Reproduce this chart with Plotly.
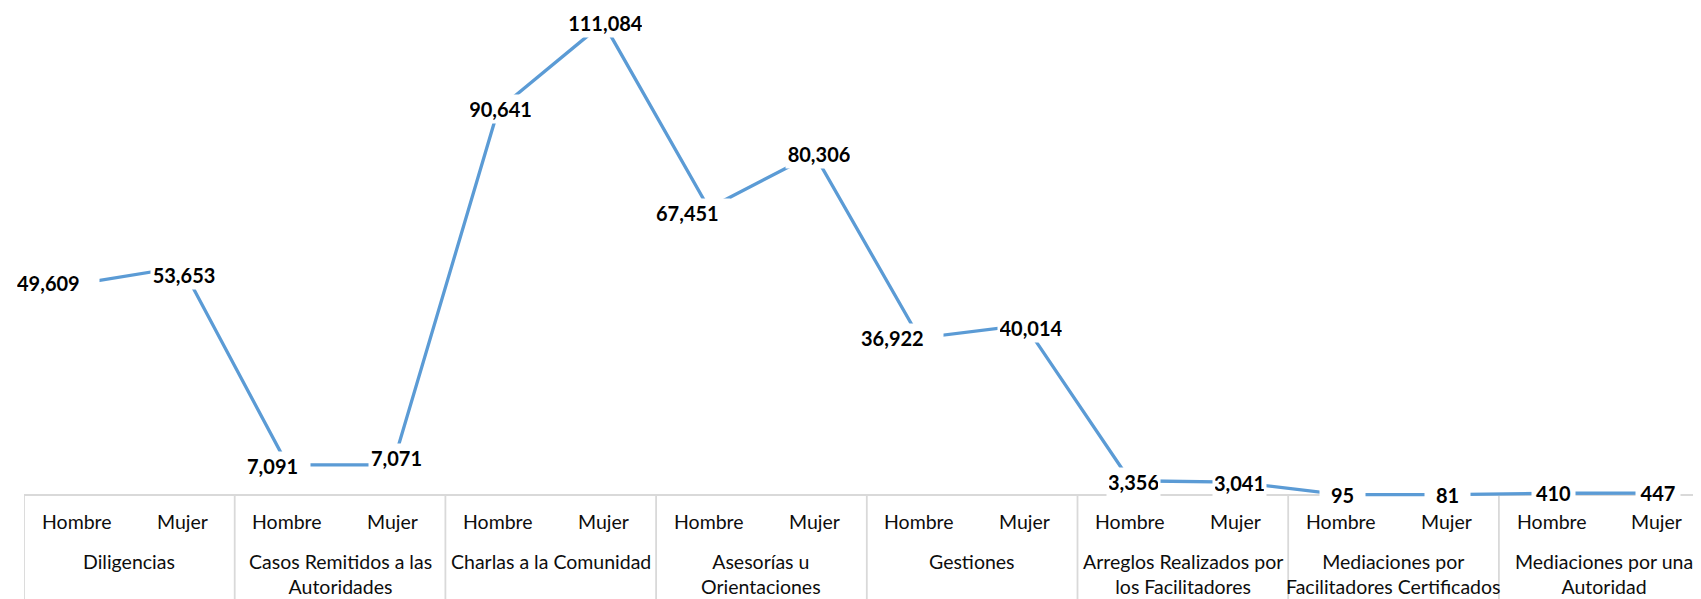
import plotly.graph_objects as go

groups = ["Diligencias", "Casos Remitidos a las<br>Autoridades", "Charlas a la Comunidad",
          "Asesorías u<br>Orientaciones", "Gestiones", "Arreglos Realizados por<br>los Facilitadores",
          "Mediaciones por<br>Facilitadores Certificados", "Mediaciones por una<br>Autoridad"]
sexes = ["Hombre", "Mujer"]
values = [49609, 53653, 7091, 7071, 90641, 111084, 67451, 80306,
          36922, 40014, 3356, 3041, 95, 81, 410, 447]

# label box placement (px, relative to the point): left edge, right edge, vertical offset (down +), text align
box_left = [-62, -31, -42, -24, -30, -36, -55, -28, -60, -27, -23, -23, -21, -21, -20, -21]
box_right = [22, 35, 23, 31, 35, 41, 21, 38, 24, 39, 30, 30, 24, 24, 23, 23]
box_dy = [-1, 8, 1, -7, -1, 0, 5, 0, 0, 3, 1, 1, 0, 0, 0, 0]
box_align = ["left", "center", "left", "right", "center", "center", "left", "center",
             "left", "center", "center", "center", "center", "center", "center", "center"]

n = len(values)
xs = list(range(n))

# page body has an 8px offset; figure sized to fill the rest of the window
W, H = 1693, 591
LEFT = 16
SPACING = 105.35
ZERO_PX = 487.0
PX_PER_UNIT = 0.00425
YTOP = ZERO_PX / PX_PER_UNIT
YBOT = -(H - ZERO_PX) / PX_PER_UNIT
Y_SUB = (ZERO_PX - 513.7) / PX_PER_UNIT
Y_GRP = (ZERO_PX - 540.0) / PX_PER_UNIT

fig = go.Figure()
fig.add_trace(go.Scatter(x=xs, y=values, mode="lines",
                         line=dict(color="#5B9BD5", width=3.3),
                         hoverinfo="skip", showlegend=False))

FONT = "Lato, 'Open Sans', sans-serif"
BP = 2
ann = []
for i, v in enumerate(values):
    w = box_right[i] - box_left[i] - 2 * BP
    cx = (box_right[i] + box_left[i]) / 2
    ann.append(dict(x=i, y=v, xref="x", yref="y", text=f"<b>{v:,}</b>", showarrow=False,
                    font=dict(family=FONT, size=20, color="#000000"),
                    bgcolor="white", borderpad=BP, width=w, align=box_align[i],
                    xanchor="center", yanchor="middle", xshift=cx, yshift=-box_dy[i]))
for i in range(n):
    ann.append(dict(x=i, y=Y_SUB, xref="x", yref="y", text=sexes[i % 2], showarrow=False,
                    font=dict(family=FONT, size=19.5, color="#0d0d0d"),
                    xanchor="center", yanchor="middle"))
for g, name in enumerate(groups):
    ann.append(dict(x=2 * g + 0.5, y=Y_GRP, xref="x", yref="y", text=name, showarrow=False,
                    font=dict(family=FONT, size=19.5, color="#0d0d0d"),
                    xanchor="center", yanchor="top"))

shapes = [dict(type="line", xref="x", yref="y", x0=-0.5, x1=n - 0.5, y0=0, y1=0,
               line=dict(color="#D9D9D9", width=1.8), layer="below")]
for g in range(len(groups) + 1):
    xb = 2 * g - 0.5
    shapes.append(dict(type="line", xref="x", yref="y", x0=xb, x1=xb, y0=0, y1=YBOT,
                       line=dict(color="#D9D9D9", width=1.8), layer="below"))

xmax = -0.5 + (W - LEFT) / SPACING

fig.update_layout(
    width=W, height=H,
    margin=dict(l=LEFT, r=0, t=0, b=0, pad=0),
    paper_bgcolor="white", plot_bgcolor="white",
    xaxis=dict(range=[-0.5, xmax], visible=False, fixedrange=True),
    yaxis=dict(range=[YBOT, YTOP], visible=False, fixedrange=True),
    annotations=ann, shapes=shapes, showlegend=False,
)
fig.write_html("out.html")
